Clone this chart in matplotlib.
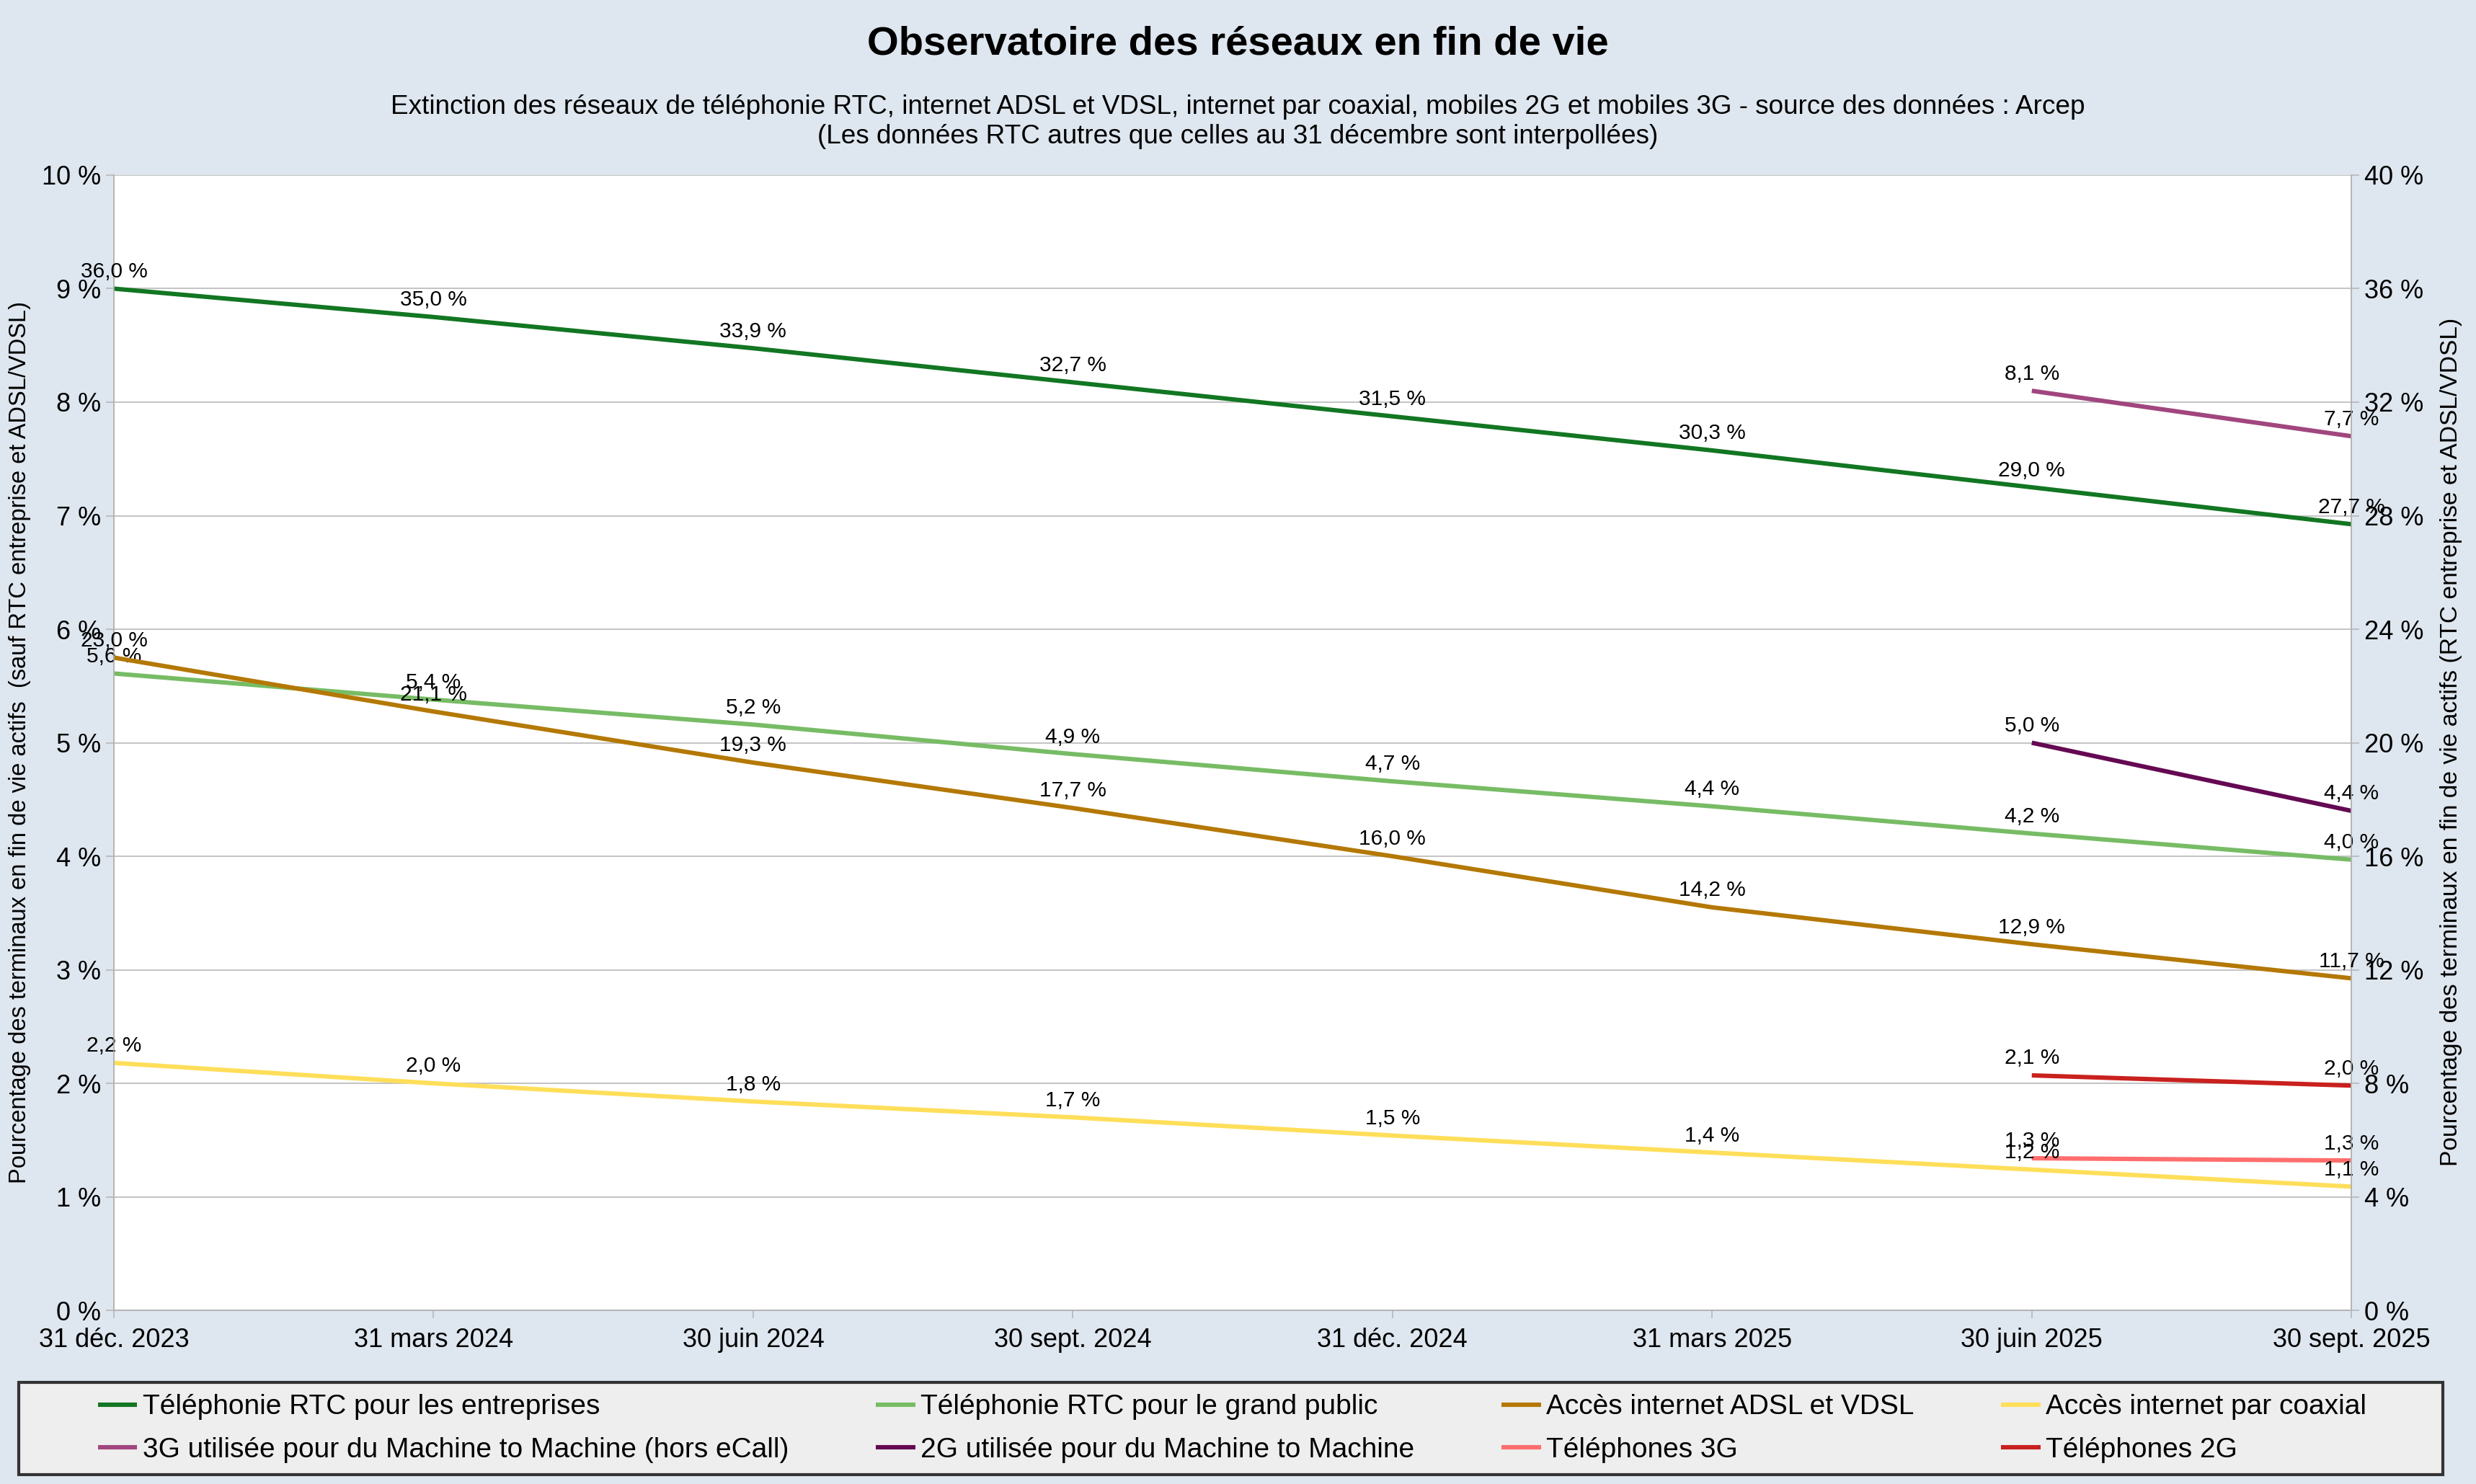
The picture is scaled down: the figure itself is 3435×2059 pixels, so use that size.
import matplotlib as mpl
mpl.use("Agg")
import matplotlib.pyplot as plt
from matplotlib.patches import Rectangle
import numpy as np

plt.rcParams['font.family'] = ['Liberation Sans', 'DejaVu Sans']

# Dates (categories on the x axis)
dates = ["31 déc. 2023", "31 mars 2024", "30 juin 2024", "30 sept. 2024",
         "31 déc. 2024", "31 mars 2025", "30 juin 2025", "30 sept. 2025"]

# Series on the right axis (0-40 %)
rtc_entreprises = [36.0, 35.0, 33.9, 32.7, 31.5, 30.3, 29.0, 27.7]
adsl_vdsl = [23.0, 21.1, 19.3, 17.7, 16.0, 14.2, 12.9, 11.7]

# Series on the left axis (0-10 %)
rtc_grand_public = [5.61, 5.38, 5.16, 4.90, 4.66, 4.44, 4.20, 3.97]
coaxial = [2.18, 2.0, 1.84, 1.7, 1.54, 1.39, 1.24, 1.09]
m2m_3g = [None, None, None, None, None, None, 8.1, 7.7]
m2m_2g = [None, None, None, None, None, None, 5.0, 4.4]
phones_3g = [None, None, None, None, None, None, 1.34, 1.32]
phones_2g = [None, None, None, None, None, None, 2.07, 1.98]

names = ["Téléphonie RTC pour les entreprises",
         "Téléphonie RTC pour le grand public",
         "Accès internet ADSL et VDSL",
         "Accès internet par coaxial",
         "3G utilisée pour du Machine to Machine (hors eCall)",
         "2G utilisée pour du Machine to Machine",
         "Téléphones 3G",
         "Téléphones 2G"]
colors = ["#127622", "#77bc65", "#b47804", "#ffde59",
          "#a1467e", "#650953", "#ff6d6d", "#c9211e"]

BG = "#dee6ef"
GRID = "#b3b3b3"


def fmt(v):
    return ("%.1f" % v).replace(".", ",") + " %"


def draw(ax, values, color, label):
    xs = [i for i, v in enumerate(values) if v is not None]
    ys = [v for v in values if v is not None]
    line, = ax.plot(xs, ys, color=color, lw=4.4, label=label,
                    solid_capstyle='butt', clip_on=False)
    for x, y in zip(xs, ys):
        ax.annotate(fmt(y), (x, y), xytext=(0, 17), textcoords='offset points',
                    ha='center', va='center', fontsize=21.5, annotation_clip=False)
    return line


fig = plt.figure(figsize=(34.35, 20.59), dpi=100, facecolor=BG)
ax = fig.add_axes([0.046, 0.117, 0.9037, 0.765])
ax2 = ax.twinx()
ax.set_facecolor("white")

x = np.arange(len(dates))
ax.set_xlim(0, len(dates) - 1)
ax.set_ylim(0, 10)
ax2.set_ylim(0, 40)

ax.set_yticks(np.arange(0, 11, 1))
ax.set_yticklabels(["%d %%" % v for v in range(0, 11)])
ax2.set_yticks(np.arange(0, 41, 4))
ax2.set_yticklabels(["%d %%" % v for v in range(0, 41, 4)])
ax.set_xticks(x)
ax.set_xticklabels(dates)

ax.grid(axis='y', color=GRID, lw=1.1)
ax.set_axisbelow(True)
for a in (ax, ax2):
    for s in a.spines.values():
        s.set_color(GRID)
        s.set_linewidth(1.1)
ax.spines['top'].set_visible(False)
ax2.spines['top'].set_visible(False)

ax.tick_params(axis='both', length=8, width=1.1, color=GRID, labelsize=26, pad=5)
ax.tick_params(axis='x', pad=9)
ax2.tick_params(axis='y', length=8, width=1.1, color=GRID, labelsize=26, pad=5)

lines = []
lines.append(draw(ax2, rtc_entreprises, colors[0], names[0]))
lines.append(draw(ax, rtc_grand_public, colors[1], names[1]))
lines.append(draw(ax2, adsl_vdsl, colors[2], names[2]))
lines.append(draw(ax, coaxial, colors[3], names[3]))
lines.append(draw(ax, m2m_3g, colors[4], names[4]))
lines.append(draw(ax, m2m_2g, colors[5], names[5]))
lines.append(draw(ax, phones_3g, colors[6], names[6]))
lines.append(draw(ax, phones_2g, colors[7], names[7]))

fig.text(0.008, 0.5, "Pourcentage des terminaux en fin de vie actifs  (sauf RTC entreprise et ADSL/VDSL)",
         rotation=90, ha='center', va='center', fontsize=23.5)
fig.text(0.990, 0.5, "Pourcentage des terminaux en fin de vie actifs (RTC entreprise et ADSL/VDSL)",
         rotation=90, ha='center', va='center', fontsize=24.2)

fig.text(0.5, 0.970, "Observatoire des réseaux en fin de vie", ha='center', va='center',
         fontsize=40.5, fontweight='bold')
fig.text(0.5, 0.918, "Extinction des réseaux de téléphonie RTC, internet ADSL et VDSL, internet par coaxial, mobiles 2G et mobiles 3G - source des données : Arcep\n(Les données RTC autres que celles au 31 décembre sont interpollées)",
         ha='center', va='center', fontsize=26.6, linespacing=1.2)

# legend box drawn separately, entries laid out row by row
fig.add_artist(Rectangle((0.0076, 0.0063), 0.979, 0.0622, transform=fig.transFigure,
                         facecolor="#eeeeee", edgecolor="#333333", lw=3))
order = [0, 4, 1, 5, 2, 6, 3, 7]
leg = fig.legend(handles=[lines[i] for i in order], loc='center left',
                 bbox_to_anchor=(0.0396, 0.0374), ncol=4, fontsize=28, frameon=False,
                 handlelength=1.4, handletextpad=0.2, columnspacing=3.1,
                 borderpad=0, borderaxespad=0, labelspacing=0.6)

plt.savefig("out.png", dpi=100, facecolor=BG)
